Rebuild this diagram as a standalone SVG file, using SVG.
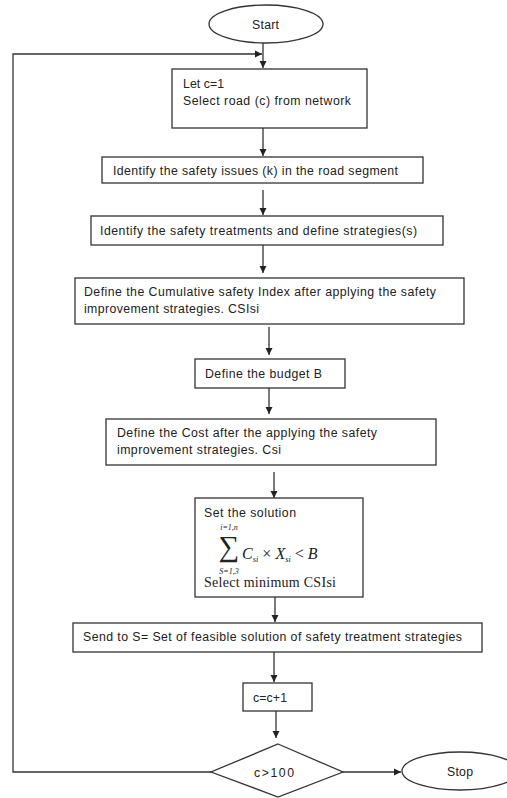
<svg xmlns="http://www.w3.org/2000/svg" width="507" height="798" viewBox="0 0 507 798">
<style>
.box{fill:#fff;stroke:#333;stroke-width:1.3}
.t{font-family:"Liberation Sans","Open Sans",sans-serif;font-size:12.3px;fill:#222}
.c{stroke:#333;stroke-width:1.3;fill:none}
.m{font-family:"Liberation Serif","DejaVu Serif",serif;font-style:italic;fill:#222}
.s{font-family:"Liberation Serif","DejaVu Serif",serif;fill:#222}
</style>
<defs>
<marker id="ah" markerUnits="userSpaceOnUse" markerWidth="8" markerHeight="8" refX="7" refY="4" orient="auto">
<path d="M0,0.5 L7,4 L0,7.5 z" fill="#222"/>
</marker>
</defs>
<rect width="507" height="798" fill="#fff"/>
<g id="connectors">
<path class="c" d="M263,43 V68" marker-end="url(#ah)"/>
<path class="c" d="M211,772 H13 V54 H262" marker-end="url(#ah)"/>
<path class="c" d="M263,128 V156" marker-end="url(#ah)"/>
<path class="c" d="M263,190 V215" marker-end="url(#ah)"/>
<path class="c" d="M263,245 V273" marker-end="url(#ah)"/>
<path class="c" d="M269,327 V355" marker-end="url(#ah)"/>
<path class="c" d="M269,388 V414" marker-end="url(#ah)"/>
<path class="c" d="M274,472 V498" marker-end="url(#ah)"/>
<path class="c" d="M275,597 V622" marker-end="url(#ah)"/>
<path class="c" d="M274,652 V682" marker-end="url(#ah)"/>
<path class="c" d="M276,711 V738" marker-end="url(#ah)"/>
<path class="c" d="M343,772 H401" marker-end="url(#ah)"/>
</g>
<g id="start">
<ellipse class="box" cx="266" cy="24" rx="57" ry="19"/>
<text class="t" x="265.5" y="28.5" text-anchor="middle" textLength="27">Start</text>
</g>
<g id="select-road">
<rect class="box" x="172" y="69" width="195" height="59"/>
<text class="t" x="183" y="88" textLength="41">Let c=1</text>
<text class="t" x="183" y="105" textLength="168">Select road (c) from network</text>
</g>
<g id="identify-issues">
<rect class="box" x="102" y="157" width="321" height="26"/>
<text class="t" x="113" y="175" textLength="285">Identify the safety issues (k) in the road segment</text>
</g>
<g id="identify-treatments">
<rect class="box" x="91" y="216" width="352" height="29"/>
<text class="t" x="100" y="235" textLength="317">Identify the safety treatments and define strategies(s)</text>
</g>
<g id="define-csi">
<rect class="box" x="75" y="278" width="389" height="46"/>
<text class="t" x="84" y="296" textLength="352">Define the Cumulative safety Index after applying the safety</text>
<text class="t" x="84" y="313" textLength="175">improvement strategies. CSIsi</text>
</g>
<g id="define-budget">
<rect class="box" x="195" y="359" width="150" height="29"/>
<text class="t" x="205" y="377.5" textLength="117">Define the budget B</text>
</g>
<g id="define-cost">
<rect class="box" x="106" y="419" width="330" height="46"/>
<text class="t" x="117" y="437" textLength="260">Define the Cost after the applying the safety</text>
<text class="t" x="117" y="454" textLength="164">improvement strategies. Csi</text>
</g>
<g id="set-solution">
<rect class="box" x="195" y="498" width="168" height="99"/>
<text class="t" x="204" y="517" textLength="92">Set the solution</text>
<text class="m" x="229" y="529.5" font-size="8" text-anchor="middle">i=1,n</text>
<text class="s" x="229" y="556" font-size="29" text-anchor="middle">∑</text>
<text class="m" x="242" y="559" font-size="16">C<tspan font-size="8.5" dy="2.5">si</tspan><tspan dy="-2.5" font-style="normal"> × </tspan>X<tspan font-size="8.5" dy="2.5">si</tspan><tspan dy="-2.5" font-style="normal"> &lt; </tspan>B</text>
<text class="m" x="229" y="574" font-size="8" text-anchor="middle">S=1,3</text>
<text class="s" x="204" y="586.5" font-size="14" textLength="132">Select minimum CSIsi</text>
</g>
<g id="send-to-s">
<rect class="box" x="73" y="623" width="409" height="29"/>
<text class="t" x="83" y="641" textLength="379">Send to S= Set of feasible solution of safety treatment strategies</text>
</g>
<g id="increment">
<rect class="box" x="243" y="683" width="69" height="28"/>
<text class="t" x="253" y="702" textLength="34">c=c+1</text>
</g>
<g id="decision">
<polygon class="box" points="278,744 343,772 278,797 211,772"/>
<text class="t" x="274" y="776.5" text-anchor="middle" font-size="13" textLength="40">c&gt;100</text>
</g>
<g id="stop">
<ellipse class="box" cx="460" cy="771" rx="58" ry="19"/>
<text class="t" x="460" y="775.5" text-anchor="middle" textLength="26">Stop</text>
</g>
</svg>
